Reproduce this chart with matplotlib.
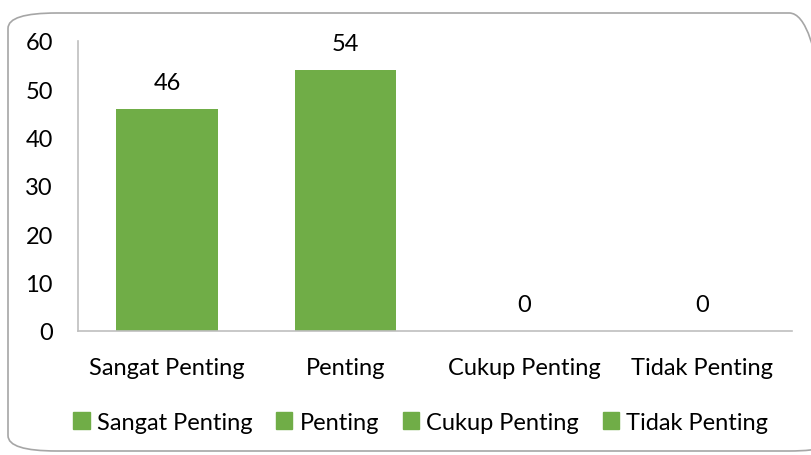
import matplotlib.pyplot as plt
from matplotlib.patches import FancyBboxPatch, Patch

categories = ["Sangat Penting", "Penting", "Cukup Penting", "Tidak Penting"]
values = [46, 54, 0, 0]
yticks = [0, 10, 20, 30, 40, 50, 60]

green = "#70AD47"
plt.rcParams['font.family'] = ['Lato', 'DejaVu Sans']

fig = plt.figure(figsize=(8.12, 4.56), dpi=100)
ax = fig.add_axes([0.096, 0.272, 0.879, 0.636])

x = range(len(categories))
ax.bar(x, values, width=0.57, color=green)
for xi, v in zip(x, values):
    ax.text(xi, v + 3.3, str(v), ha="center", va="bottom", fontsize=17)

ax.set_xlim(-0.5, len(categories) - 0.5)
ax.set_ylim(0, 60)
ax.set_yticks(yticks)
ax.set_xticks(list(x))
ax.set_xticklabels(categories)
ax.tick_params(axis="both", length=0, labelsize=17)
ax.tick_params(axis="x", pad=19)
ax.tick_params(axis="y", pad=18)
for side in ["top", "right"]:
    ax.spines[side].set_visible(False)
for side in ["left", "bottom"]:
    ax.spines[side].set_color("#BFBFBF")
    ax.spines[side].set_linewidth(1.2)

handles = [Patch(color=green, label=c) for c in categories]
fig.legend(handles=handles, loc="center", bbox_to_anchor=(0.518, 0.072), ncol=4,
           frameon=False, fontsize=17, handlelength=0.7, handleheight=0.7,
           handletextpad=0.3, columnspacing=1.0)

border = FancyBboxPatch((8 / 812, 4 / 456), 830 / 812, 438 / 456,
                        boxstyle="round,pad=0,rounding_size=0.06",
                        transform=fig.transFigure, fill=False,
                        edgecolor="#A6A6A6", linewidth=1.2, mutation_aspect=456 / 812)
fig.patches.append(border)

fig.savefig("out.png", dpi=100)
